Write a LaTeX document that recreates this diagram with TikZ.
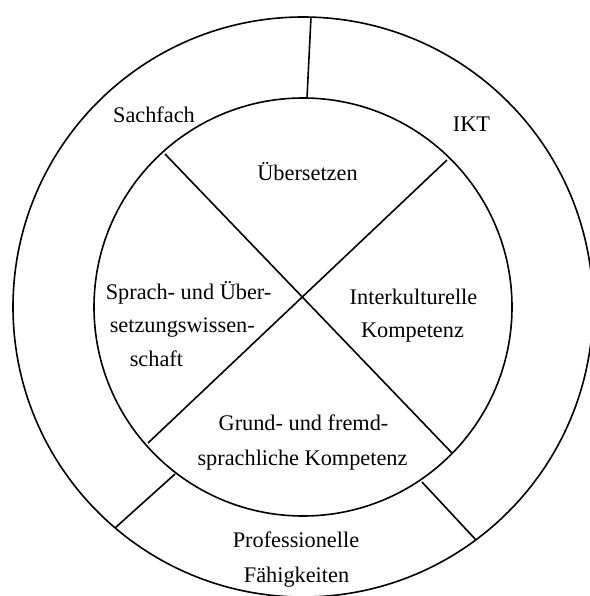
\documentclass[tikz,border=0pt]{standalone}
\usepackage{fontspec}
\setmainfont{Liberation Serif}
\begin{document}
\begin{tikzpicture}[x=1pt,y=-1pt,line width=1.6pt,
  lbl/.style={inner sep=0pt,font=\fontsize{22.3}{27}\selectfont,anchor=base},
  lblw/.style={lbl,anchor=base west}]
\useasboundingbox (0,0) rectangle (589,596);
\coordinate (C) at (303,307);
\draw (C) circle[radius=290];
\draw (C) circle[radius=209];
% radial separators in the outer ring
\coordinate (t1) at (311,17);  \coordinate (t2) at (307,98);
\coordinate (l1) at (175,474); \coordinate (l2) at (115,528);
\coordinate (r1) at (422,482); \coordinate (r2) at (476,540);
\draw (t1) -- (t2);
\draw (l1) -- (l2);
\draw (r1) -- (r2);
% cross in the inner circle
\coordinate (xa) at (165,154); \coordinate (xb) at (452,453);
\coordinate (xc) at (447,160); \coordinate (xd) at (148,443);
\draw (xa) -- (xb);
\draw (xc) -- (xd);
% labels
\node[lbl] (sach) at (154,123) {Sachfach};
\node[lbl] (ikt) at (471.5,132) {IKT};
\node[lbl] (ueb) at (307.5,180) {Übersetzen};
\node[lblw] (sp1) at (105,299) {Sprach- und Über-};
\node[lblw] (sp2) at (109,332) {setzungswissen-};
\node[lblw] (sp3) at (129,366) {schaft};
\node[lbl] (ik1) at (413.5,304) {Interkulturelle};
\node[lbl] (ik2) at (412.5,337) {Kompetenz};
\node[lbl] (gr1) at (303.5,430) {Grund- und fremd-};
\node[lbl] (gr2) at (302.5,465) {sprachliche Kompetenz};
\node[lbl] (pr1) at (296,547) {Professionelle};
\node[lbl] (pr2) at (296.5,582) {Fähigkeiten};
\end{tikzpicture}
\end{document}
